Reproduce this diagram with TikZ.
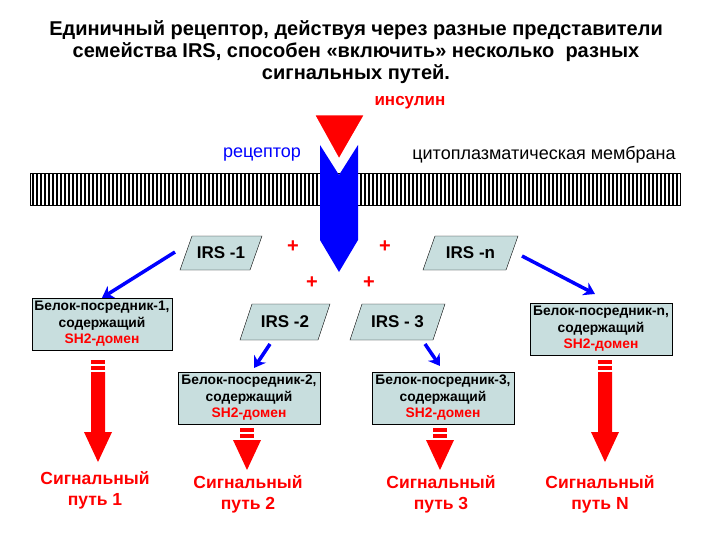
\documentclass[tikz,border=0pt]{standalone}
\usepackage{fontspec}
\setmainfont{Liberation Sans}
\usetikzlibrary{arrows.meta}
\begin{document}
\begin{tikzpicture}[x=1pt,y=-1pt,
  txt/.style={font=\fontsize{18}{21}\selectfont},
  bbox/.style={draw=black,fill=irsfill,align=center,font=\bfseries\fontsize{13.8}{16.5}\selectfont,inner sep=0.5pt},
  irs/.style={font=\bfseries\fontsize{17}{20}\selectfont},
  plus/.style={text=red,font=\bfseries\fontsize{20}{20}\selectfont},
  barrow/.style={draw=blue,line width=3.5pt,-{Stealth[length=11pt,width=14pt]}},
  sigpath/.style={text=red,align=center,font=\bfseries\fontsize{17.5}{21}\selectfont}]
\definecolor{irsfill}{RGB}{200,222,222}
\useasboundingbox (0,0) rectangle (720,540);
\node[align=center,font=\bfseries\fontsize{20}{22}\selectfont] (title) at (356,52) {Единичный рецептор, действуя через разные представители\\семейства IRS, способен «включить» несколько\ \ разных\\сигнальных путей.};
% membrane
\draw[fill=white] (30,173) rectangle (680,205);
\foreach \i in {0,...,161} {\fill (31.5+\i*4,173) rectangle (33.5+\i*4,205);}
\node[txt,text=red,font=\bfseries\fontsize{17}{20}\selectfont] (ins) at (410,103) {инсулин};
\node[txt,text=blue] (rec) at (262,155) {рецептор};
\node[txt] (mem) at (544,155) {цитоплазматическая мембрана};
% receptor
\fill[blue] (320,145) -- (339,175) -- (358,145) -- (358,240) -- (339,272) -- (320,240) -- cycle;
\filldraw[red,draw=white,line width=3pt] (313,114) -- (366,114) -- (339,161) -- cycle;
% IRS parallelograms
\newcommand{\para}[5]{\draw[fill=irsfill] (#1+12,#3) -- (#2,#3) -- (#2-12,#4) -- (#1,#4) -- cycle; \node[irs] at ({(#1+#2)/2},{(#3+#4)/2}) {#5};}
\para{180}{262}{236}{270}{IRS -1}
\para{423}{518}{236}{270}{IRS -n}
\para{240}{330}{304}{340}{IRS -2}
\para{350}{445}{304}{340}{IRS - 3}
\coordinate (i1) at (175,252); \coordinate (in) at (522,256);
\coordinate (i2) at (270,344); \coordinate (i3) at (425,344);
\node[plus] (p1) at (293,247) {+};
\node[plus] (p2) at (385,247) {+};
\node[plus] (p3) at (312,283) {+};
\node[plus] (p4) at (369,283) {+};
% boxes
\node[bbox,minimum width=140pt,minimum height=52pt] (b1) at (102,324) {Белок-посредник-1,\\содержащий\\\textcolor{red}{SH2-домен}};
\node[bbox,minimum width=142pt,minimum height=52pt] (bn) at (601,329) {Белок-посредник-n,\\содержащий\\\textcolor{red}{SH2-домен}};
\node[bbox,minimum width=142pt,minimum height=52pt] (b2) at (249,398) {Белок-посредник-2,\\содержащий\\\textcolor{red}{SH2-домен}};
\node[bbox,minimum width=142pt,minimum height=52pt] (b3) at (443,398) {Белок-посредник-3,\\содержащий\\\textcolor{red}{SH2-домен}};
\coordinate (bnt) at (595,294); \coordinate (b2t) at (254,368); \coordinate (b3t) at (440,366);
\draw[barrow] (i1) -- (b1.north);
\draw[barrow] (in) -- (bnt);
\draw[barrow] (i2) -- (b2t);
\draw[barrow] (i3) -- (b3t);
% red arrows
\newcommand{\rarrow}[3]{%
 \fill[red] (#1-7,#2) rectangle (#1+7,#2+4);
 \fill[red] (#1-7,#2+6) rectangle (#1+7,#2+10);
 \fill[red] (#1-7,#2+12) -- (#1+7,#2+12) -- (#1+7,#3-30) -- (#1+14,#3-30) -- (#1,#3) -- (#1-14,#3-30) -- (#1-7,#3-30) -- cycle;}
\rarrow{98}{360}{462}
\rarrow{605}{360}{462}
\rarrow{247}{428}{470}
\rarrow{440}{428}{470}
\node[sigpath] (s1) at (95,490) {Сигнальный\\путь 1};
\node[sigpath] (s2) at (248,494) {Сигнальный\\путь 2};
\node[sigpath] (s3) at (441,494) {Сигнальный\\путь 3};
\node[sigpath] (sn) at (600,494) {Сигнальный\\путь N};
\end{tikzpicture}
\end{document}
